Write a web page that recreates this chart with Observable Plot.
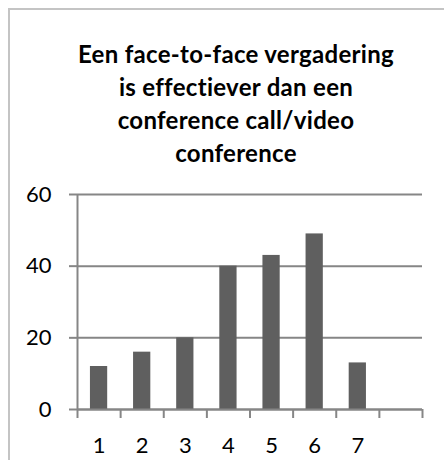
<!DOCTYPE html>
<html>
<head>
<meta charset="utf-8">
<script src="https://cdn.jsdelivr.net/npm/d3@7"></script>
<script src="https://cdn.jsdelivr.net/npm/@observablehq/plot@0.6"></script>
<style>
  body { margin: 0; background: #fff; }
  #chart { position: relative; width: 444px; height: 471px; overflow: hidden; font-family: Lato, "Open Sans", sans-serif; font-variant-ligatures: none; }
  #frame { position: absolute; left: 8px; top: 8px; width: 460px; height: 452px; border-top: 2px solid #c4c4c4; border-left: 2px solid #c4c4c4; box-sizing: border-box; }
  #title { position: absolute; left: 0; top: 37px; width: 472px; text-align: center; font-weight: bold; font-size: 24px; letter-spacing: 0.3px; line-height: 33px; color: #000; }
  #chart svg { position: absolute; left: 0; top: 0; font-variant-ligatures: none; }
</style>
</head>
<body>
<div id="chart">
  <div id="frame"></div>
  <div id="title"></div>
</div>
<script>
// Answer scale 1–7, with an eighth empty slot on the category axis
const categories = [1, 2, 3, 4, 5, 6, 7];
const values = [12, 16, 20, 40, 43, 49, 13];
const slotCount = 8;
const yTicks = [0, 20, 40, 60];
const titleLines = [
  "Een face-to-face vergadering",
  "is effectiever dan een",
  "conference call/video",
  "conference"
];

const data = categories.map((c, i) => ({category: c, value: values[i]}));
const slotEdges = d3.range(0.5, slotCount + 1, 1);
const halfBar = 0.2;
const axisColor = "#868686";

document.getElementById("title").innerHTML = titleLines.join("<br>");

const chart = Plot.plot({
  width: 444,
  height: 471,
  marginLeft: 77,
  marginRight: 22,
  marginTop: 194,
  marginBottom: 62,
  x: {domain: [0.5, slotCount + 0.5]},
  y: {domain: [0, 60]},
  style: {fontFamily: "Lato, 'Open Sans', sans-serif", fontSize: "22px", color: "#000", background: "transparent", overflow: "visible"},
  marks: [
    Plot.gridY(yTicks, {stroke: axisColor, strokeOpacity: 1, strokeWidth: 2}),
    Plot.rect(data, {
      x1: d => d.category - halfBar,
      x2: d => d.category + halfBar,
      y1: 0,
      y2: "value",
      fill: "#5f5f5f"
    }),
    Plot.ruleX([0.5], {stroke: axisColor, strokeWidth: 2}),
    Plot.ruleY([0], {stroke: axisColor, strokeWidth: 2}),
    Plot.axisY({ticks: yTicks, tickSize: 8, tickPadding: 18, stroke: axisColor, strokeWidth: 2, fill: "#000", label: null}),
    Plot.axisX({ticks: slotEdges, tickSize: 9, tickFormat: () => "", stroke: axisColor, strokeWidth: 2, label: null}),
    Plot.axisX({ticks: categories, tickSize: 0, tickPadding: 28, fill: "#000", label: null})
  ]
});

document.getElementById("chart").appendChild(chart);
</script>
</body>
</html>
